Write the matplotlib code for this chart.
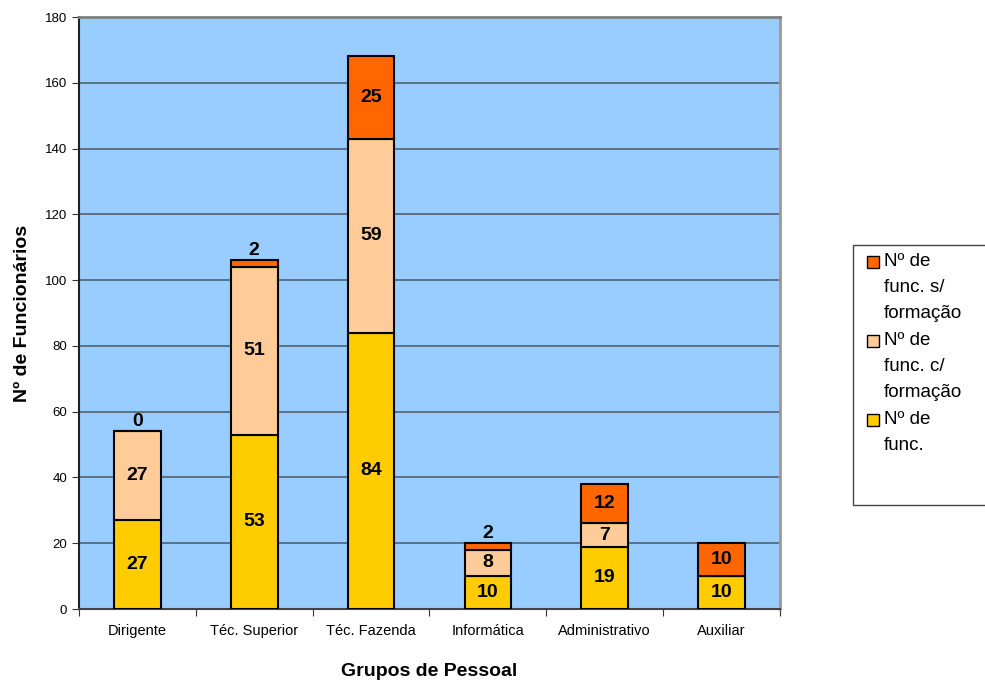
import matplotlib
matplotlib.use('Agg')
import matplotlib.pyplot as plt
from matplotlib.patches import Rectangle
import numpy as np

plt.rcParams['font.family'] = ['Liberation Sans', 'DejaVu Sans']

# Data
grupos = ['Dirigente', 'Téc. Superior', 'Téc. Fazenda', 'Informática',
          'Administrativo', 'Auxiliar']
func = [27, 53, 84, 10, 19, 10]
com_formacao = [27, 51, 59, 8, 7, None]
sem_formacao = [0, 2, 25, 2, 12, 10]

series_labels = ['Nº de\nfunc.', 'Nº de\nfunc. c/\nformação', 'Nº de\nfunc. s/\nformação']
colors = ['#FFCC00', '#FFCC99', '#FF6600']

W, H = 985, 681
fig = plt.figure(figsize=(W / 100, H / 100), dpi=100)
ax = fig.add_axes([79 / W, 72 / H, 701 / W, 592 / H])
ax.set_facecolor('#99CCFF')

x = np.arange(len(grupos))
width = 0.40
bottom = np.zeros(len(grupos))
for vals, col in zip([func, com_formacao, sem_formacao], colors):
    v = np.array([0 if a is None else a for a in vals], dtype=float)
    ax.bar(x, v, width, bottom=bottom, color=col, edgecolor='black',
           linewidth=1.5, zorder=3)
    for i, a in enumerate(vals):
        if a is None:
            continue
        if a < 5:
            # small segment: label sits above the bar
            ax.text(x[i], bottom[i] + v[i] + 0.3, str(a), ha='center',
                    va='bottom', fontsize=14, fontweight='bold', zorder=4)
        else:
            ax.text(x[i], bottom[i] + v[i] / 2, str(a), ha='center',
                    va='center', fontsize=14, fontweight='bold', zorder=4)
    bottom += v

ax.set_xlim(-0.5, len(grupos) - 0.5)
ax.set_ylim(0, 180)
ax.set_yticks(np.arange(0, 181, 20))
ax.yaxis.grid(True, color='#4F6170', linewidth=1.2)
ax.set_axisbelow(True)

# category ticks between groups, labels centered
ax.set_xticks(np.arange(-0.5, len(grupos), 1.0))
ax.set_xticklabels([])
ax.set_xticks(x, minor=True)
ax.set_xticklabels(grupos, minor=True, fontsize=10.5)
ax.tick_params(axis='x', which='minor', length=0, pad=11)
ax.tick_params(axis='x', which='major', length=5, direction='out', color='#333333')
ax.tick_params(axis='y', length=5, direction='out', labelsize=9.5, color='#333333')

ax.spines['top'].set_color('#808080')
ax.spines['top'].set_linewidth(2)
ax.spines['right'].set_color('#999999')
ax.spines['right'].set_linewidth(2)
ax.spines['left'].set_color('#222222')
ax.spines['bottom'].set_color('#444444')
ax.spines['left'].set_linewidth(1.5)
ax.spines['bottom'].set_linewidth(1.5)

ax.set_xlabel('Grupos de Pessoal', fontsize=14, fontweight='bold', labelpad=18)
ax.set_ylabel('Nº de Funcionários', fontsize=14, fontweight='bold', labelpad=10)

# legend box, runs off the right edge like the original
fig.patches.append(Rectangle((853 / W, 1 - 505 / H), 140 / W, 260 / H,
                             transform=fig.transFigure, facecolor='white',
                             edgecolor='#444444', linewidth=1))
line_h = 26.3
row = 0
for lab, col in zip(series_labels[::-1], colors[::-1]):
    yc = 262 + row * line_h
    fig.patches.append(Rectangle((867 / W, 1 - (yc + 6) / H), 12 / W, 12 / H,
                                 transform=fig.transFigure, facecolor=col,
                                 edgecolor='black', linewidth=1))
    fig.text(884 / W, 1 - (yc - 9) / H, lab, fontsize=13.5, ha='left', va='top',
             linespacing=1.68)
    row += lab.count('\n') + 1

fig.savefig('out.png', dpi=100)
